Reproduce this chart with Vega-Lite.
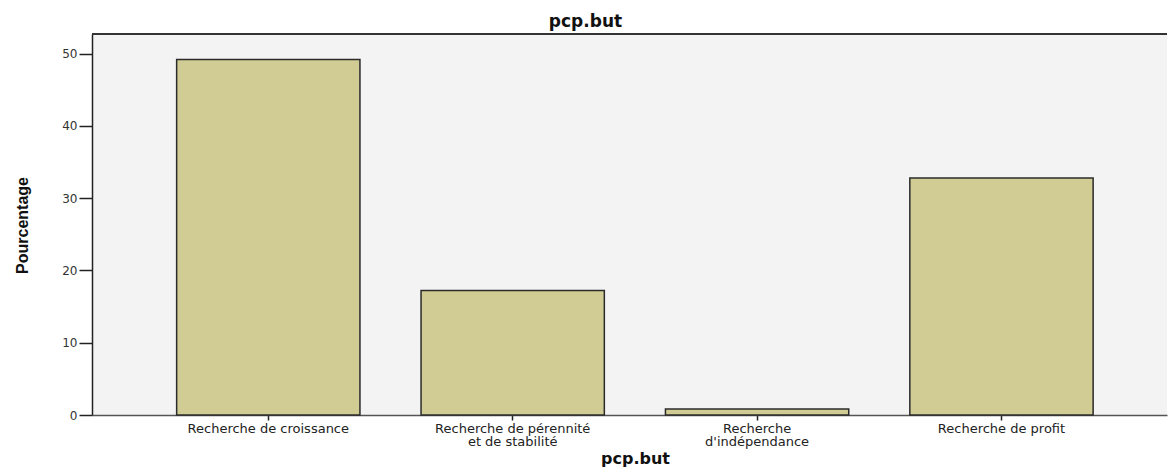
{
  "$schema": "https://vega.github.io/schema/vega-lite/v6.json",
  "autosize": {"type": "none"},
  "width": 1075,
  "height": 381,
  "padding": {"left": 92, "top": 34, "right": 1, "bottom": 53},
  "background": "white",
  "title": {
    "text": "pcp.but",
    "font": "DejaVu Sans",
    "fontSize": 17,
    "fontWeight": "bold",
    "color": "#111111",
    "anchor": "middle",
    "baseline": "alphabetic",
    "offset": 5,
    "dx": -44,
    "dy": 16
  },
  "config": {
    "view": {"fill": "#f3f3f3", "stroke": null}
  },
  "data": {
    "values": [
      {"but": "Recherche de croissance", "pct": 49.18},
      {"but": "Recherche de pérennité|et de stabilité", "pct": 17.21},
      {"but": "Recherche|d'indépendance", "pct": 0.82},
      {"but": "Recherche de profit", "pct": 32.79}
    ]
  },
  "layer": [
    {
      "mark": {"type": "bar", "fill": "#d1cc93", "stroke": "#2b2b2b", "strokeWidth": 1.5},
      "encoding": {
        "x": {
          "field": "but",
          "type": "nominal",
          "sort": null,
          "scale": {"paddingInner": 0.25, "paddingOuter": 0.3243, "align": 0.534},
          "axis": {
            "title": "pcp.but",
            "titleFont": "DejaVu Sans",
            "titleFontSize": 16,
            "titleFontWeight": "bold",
            "titleColor": "#111111",
            "titleX": 543,
            "titleY": 48,
            "titleBaseline": "alphabetic",
            "labelExpr": "split(datum.label, '|')",
            "labelAngle": 0,
            "labelFont": "DejaVu Sans",
            "labelFontSize": 13,
            "labelColor": "#222222",
            "labelPadding": 2,
            "labelLineHeight": 13,
            "labelLimit": 400,
            "labelOverlap": false,
            "domainColor": "#555555",
            "domainWidth": 1.5,
            "tickColor": "#222222",
            "tickSize": 5,
            "tickWidth": 1.5
          }
        },
        "y": {
          "field": "pct",
          "type": "quantitative",
          "scale": {"domain": [0, 52.7], "nice": false},
          "axis": {
            "title": "Pourcentage",
            "titleFont": "Liberation Sans",
            "titleFontSize": 16,
            "titleFontWeight": "bold",
            "titleColor": "#111111",
            "titleX": -70,
            "titleY": 191,
            "titleBaseline": "middle",
            "values": [0, 10, 20, 30, 40, 50],
            "grid": false,
            "labelFont": "DejaVu Sans",
            "labelFontSize": 12,
            "labelColor": "#333333",
            "labelPadding": 2,
            "domainColor": "#222222",
            "domainWidth": 1.5,
            "tickColor": "#222222",
            "tickSize": 13,
            "tickWidth": 1.5
          }
        }
      }
    },
    {
      "mark": {"type": "rule", "color": "#333333", "strokeWidth": 1.5},
      "encoding": {"y": {"datum": 52.7, "type": "quantitative"}}
    }
  ]
}
